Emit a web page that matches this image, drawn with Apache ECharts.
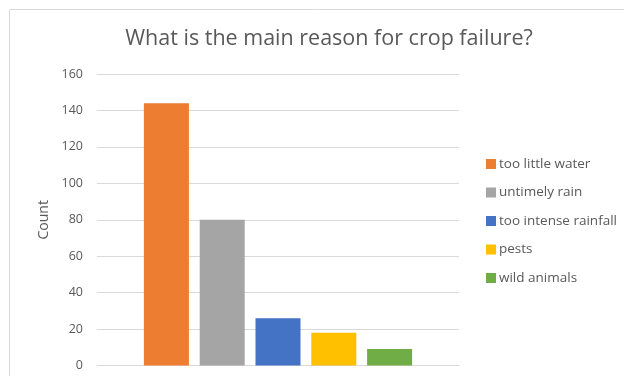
<!DOCTYPE html>
<html>
<head>
<meta charset="utf-8">
<script src="https://cdn.jsdelivr.net/npm/echarts@6/dist/echarts.min.js"></script>
<style>
  html, body { margin: 0; padding: 0; background: #fff; }
  #chart { width: 624px; height: 376px; }
</style>
</head>
<body>
<div id="chart"></div>
<script>
// Survey answers: main reason for crop failure
const reasons = ['too little water', 'untimely rain', 'too intense rainfall', 'pests', 'wild animals'];
const counts = [144, 80, 26, 18, 9];
const colors = ['#ED7D31', '#A5A5A5', '#4472C4', '#FFC000', '#70AD47'];
const yTicks = { min: 0, max: 160, step: 20 };

const FONT = '"Open Sans", "Noto Sans", sans-serif';
const TEXT = '#595959';

const chart = echarts.init(document.getElementById('chart'), null, { renderer: 'canvas' });

const series = reasons.map((name, i) => ({
  name: name,
  type: 'bar',
  data: [counts[i]],
  barWidth: 45,
  barGap: '24%',
  itemStyle: { color: colors[i] },
  emphasis: { disabled: true }
}));

chart.setOption({
  animation: false,
  backgroundColor: '#ffffff',
  textStyle: { fontFamily: FONT },
  title: {
    text: 'What is the main reason for crop failure?',
    left: 324,
    textAlign: 'center',
    top: 23,
    textStyle: { fontFamily: FONT, fontSize: 21.5, fontWeight: 'normal', color: TEXT }
  },
  graphic: [{
    type: 'rect',
    shape: { x: 9.5, y: 9.5, width: 700, height: 500 },
    style: { fill: 'none', stroke: '#d9d9d9', lineWidth: 1 },
    silent: true,
    z: -1
  }],
  legend: {
    orient: 'vertical',
    left: 481,
    top: 152,
    itemWidth: 10,
    itemHeight: 10,
    itemGap: 14.5,
    icon: 'rect',
    data: reasons,
    textStyle: { fontFamily: FONT, fontSize: 13.5, color: TEXT, padding: [0, 0, 0, -2] }
  },
  grid: { left: 97, right: 165, top: 74, bottom: 10.5, containLabel: false },
  xAxis: {
    type: 'category',
    data: [''],
    axisLine: { show: true, lineStyle: { color: '#d9d9d9', width: 1 } },
    axisTick: { show: false },
    axisLabel: { show: false },
    splitLine: { show: false }
  },
  yAxis: {
    type: 'value',
    min: yTicks.min,
    max: yTicks.max,
    interval: yTicks.step,
    name: 'Count',
    nameLocation: 'middle',
    nameGap: 45,
    nameRotate: 90,
    nameTextStyle: { fontFamily: FONT, fontSize: 14, color: TEXT },
    axisLine: { show: false },
    axisTick: { show: false },
    axisLabel: { fontFamily: FONT, fontSize: 12.5, color: TEXT, margin: 14 },
    splitLine: { lineStyle: { color: '#d9d9d9', width: 1 } }
  },
  series: series
});
</script>
</body>
</html>
